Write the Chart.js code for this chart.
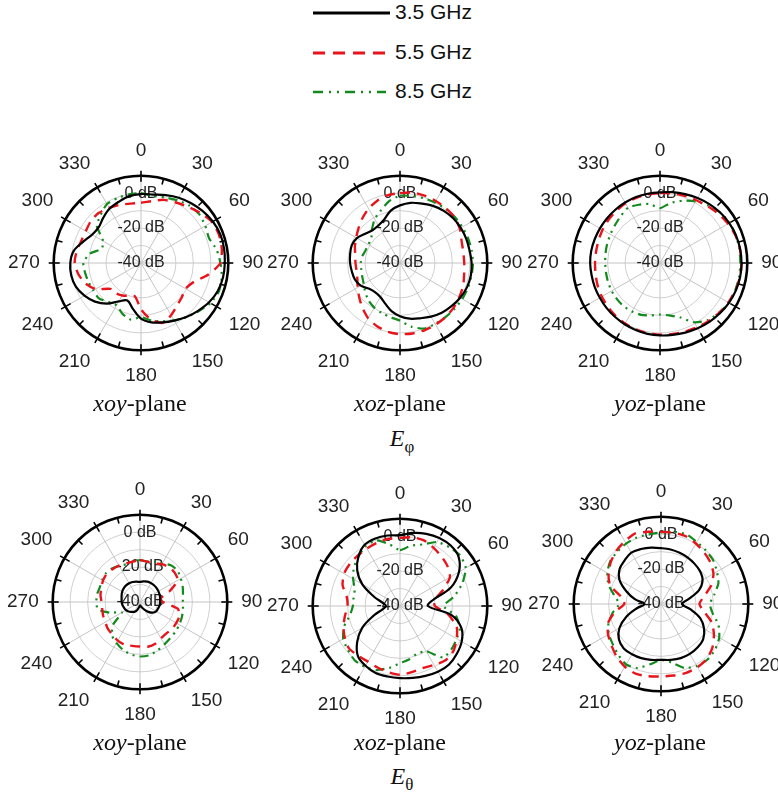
<!DOCTYPE html>
<html>
<head>
<meta charset="utf-8">
<script src="https://cdn.jsdelivr.net/npm/chart.js@4.4.1/dist/chart.umd.min.js"></script>
<style>
  body { margin: 0; background: #fff; }
  #page { position: relative; width: 778px; height: 794px; overflow: hidden; }
  .box { position: absolute; }
  .cap { position: absolute; font-family: "Liberation Serif", "Times New Roman", serif; font-size: 24px; color: #111; transform: translate(-50%, -50%); white-space: nowrap; }
  .cap i { font-style: italic; }
  .leg { position: absolute; left: 312px; top: 0; width: 200px; font-family: "Liberation Sans", Arial, sans-serif; font-size: 21px; color: #111; white-space: nowrap; }
  .leg div { position: relative; height: 39.5px; }
  .leg svg { position: absolute; left: 0; top: 3px; }
  .leg span { position: absolute; left: 83px; top: 0px; }
</style>
</head>
<body>
<div id="page">
  <div class="leg">
    <div><svg width="80" height="20"><line x1="1" y1="10" x2="78" y2="10" stroke="#000" stroke-width="3"/></svg><span>3.5 GHz</span></div>
    <div><svg width="80" height="20"><line x1="1" y1="10" x2="74" y2="10" stroke="#e8141c" stroke-width="3" stroke-dasharray="12 8"/></svg><span>5.5 GHz</span></div>
    <div><svg width="80" height="20"><line x1="1" y1="10" x2="74" y2="10" stroke="#138a1e" stroke-width="2.5" stroke-dasharray="10 6 2 6 2 6"/></svg><span>8.5 GHz</span></div>
  </div>

  <div class="box" id="b1"><canvas id="c1" width="266" height="266"></canvas></div>
  <div class="box" id="b2"><canvas id="c2" width="266" height="266"></canvas></div>
  <div class="box" id="b3"><canvas id="c3" width="266" height="266"></canvas></div>
  <div class="box" id="b4"><canvas id="c4" width="266" height="266"></canvas></div>
  <div class="box" id="b5"><canvas id="c5" width="266" height="266"></canvas></div>
  <div class="box" id="b6"><canvas id="c6" width="266" height="266"></canvas></div>

  <div class="cap" style="left:140px; top:403px"><i>xoy</i>-plane</div>
  <div class="cap" style="left:400px; top:403px"><i>xoz</i>-plane</div>
  <div class="cap" style="left:660px; top:403px"><i>yoz</i>-plane</div>
  <div class="cap" style="left:402px; top:441px"><i>E</i><sub style="font-size:17px">φ</sub></div>
  <div class="cap" style="left:140px; top:742px"><i>xoy</i>-plane</div>
  <div class="cap" style="left:400px; top:742px"><i>xoz</i>-plane</div>
  <div class="cap" style="left:660px; top:742px"><i>yoz</i>-plane</div>
  <div class="cap" style="left:402px; top:779px"><i>E</i><sub style="font-size:17px">θ</sub></div>
</div>

<script>
// angles (deg) every 10
const angles = [0, 10, 20, 30, 40, 50, 60, 70, 80, 90, 100, 110, 120, 130, 140, 150, 160, 170,
                180, 190, 200, 210, 220, 230, 240, 250, 260, 270, 280, 290, 300, 310, 320, 330, 340, 350];
const angleTicks = ['0', '30', '60', '90', '120', '150', '180', '210', '240', '270', '300', '330'];
const dbTicks = [-40, -20, 0];
const seriesNames = ['3.5 GHz', '5.5 GHz', '8.5 GHz'];

// E-phi, xoy-plane
const phiXoy35 = [-0.5, -0.2, 1.4, 3.2, 4.7, 6.2, 7.5, 8.3, 8.3, 8.0, 7.7, 6.8, 5.0, 2.6, 0.4, -1.9, -3.8, -5.5,
                  -8.2, -13.3, -17.2, -14.6, -9.6, -5.6, -2.6, -0.3, 0.6, 0.5, -0.8, -4.6, -7.6, -8.3, -6.3, -4.0, -2.7, -1.1];
const phiXoy55 = [-5.5, -4, -1.5, 0, 2, 4.5, 7, 7.5, 7, 5.5, -1, -8, -10.5, -9.5, -8, -5.5, -3.5, -7,
                  -13.5, -20.5, -20, -18.5, -17.5, -17, -10, -6, -3.5, -2, -2.5, -3.5, -3.5, -2.5, -2.5, -3.5, -4.5, -5.5];
const phiXoy85 = [0, -1, 0, 1.5, 3, 3.5, 2.5, 1.5, 4, 5.5, 7, 7.5, 6, 3, 0.5, -2, -4.5, -6.5,
                  -9, -7, -9, -12, -11, -8.5, -8.5, -8, -7.5, -7, -10, -16, -15, -7, -4, -1, -0.5, 0];

// E-phi, xoz-plane
const phiXoz35 = [-7, -5, -3.8, -2.2, -1, -0.2, 0.2, 0.4, 0.5, 1, 1.2, 0.8, -0.2, -1.5, -2.8, -4.5, -6.3, -7.6,
                  -9.5, -12, -15.2, -17.5, -18, -17, -14, -12.5, -12, -11.4, -11, -10.6, -11.5, -14, -15.5, -15.2, -13.5, -9.5];
const phiXoz55 = [0, 1, 1, 1, 1, 0.8, -0.5, -2.5, -3.2, -3.2, -2.7, -1.5, -0.8, 0, 0.5, 0.8, 1, 1,
                  0.8, 0, -1.5, -3.5, -6.5, -9.5, -12, -14, -14.7, -14.5, -14, -12.5, -11, -9, -6.5, -4, -2, -0.5];
const phiXoz85 = [-1.5, -1, -0.5, 0, 0.5, 1, 1.2, 1.5, 1.7, 1.8, 1.6, 1.5, 1.2, 0.8, 0.5, 0.3, 0, -3,
                  -7, -8.5, -9.5, -10.5, -12, -14, -16, -17, -17.5, -17.5, -18, -19, -19, -18.5, -15, -11, -8, -4];

// E-phi, yoz-plane
const phiYoz35 = [0.5, 1.2, 2, 3, 4, 5, 5.8, 6.3, 6.6, 6.7, 6.6, 6.2, 5.6, 4.8, 4, 3.2, 2.4, 1.8,
                  1.5, 1.2, 0.8, 0.5, 0.2, 0, -0.2, -0.2, -0.2, 0, 0, -0.2, -0.3, -0.3, -0.2, 0, 0.2, 0.3];
const phiYoz55 = [0, 0.5, 1, 1.5, 2.5, 3.8, 5, 6, 6.5, 6.7, 6.5, 6, 5.2, 4.3, 3.3, 2.5, 1.8, 1.3,
                  1, 0.8, 0.5, 0, -0.5, -1, -1.5, -2, -2.5, -2.8, -2.8, -2.5, -2, -1.5, -1, -0.5, -0.3, -0.1];
const phiYoz85 = [-8.6, -5.1, -2, 0.8, 3, 5, 6, 6.2, 6.2, 6, 6, 5.8, 5.5, 4.2, 2.7, -0.8, -6.9, -9.5,
                  -10.5, -9.5, -8.4, -8, -7.6, -7.8, -8, -8.3, -8.6, -8.6, -8.3, -7.8, -7.2, -6.3, -5, -3.4, -4.5, -5.7];

// E-theta, xoy-plane
const thXoy35 = [-28.5, -28, -27.6, -27.5, -27.5, -27.6, -27.8, -28, -28.3, -28.5, -28.6, -29, -29.3, -30.5, -32.6, -35, -36.5, -37.5,
                 -38, -37, -35, -33.5, -32.6, -31.5, -30.8, -30.3, -29.8, -29.5, -29.3, -28.8, -28.2, -27.8, -27.6, -27.6, -27.8, -28.2];
const thXoy55 = [-16, -16.5, -16.5, -15, -14, -14, -15, -22, -28, -27, -18, -16, -16, -16, -16.5, -16, -14.5, -14,
                 -14.5, -14.5, -14, -14.5, -15.5, -16, -17, -17.5, -18, -18, -17, -16.5, -15.5, -15, -15.5, -16, -16.5, -16.5];
const thXoy85 = [-16, -16.5, -15.5, -14.5, -12.5, -12, -13, -14, -15, -15.5, -15, -14.5, -14, -13.5, -13, -12, -10.5, -9,
                 -8.8, -9.5, -11, -13, -15, -20, -28, -22, -15.5, -15, -15, -15.5, -15, -14.5, -15, -16, -17, -16.5];

// E-theta, xoz-plane
const thXoz35 = [0.6, 2.5, 4, 5, 5.2, 3.8, -1, -9, -21, -24, -10, -2.5, 0.8, 2.5, 3.7, 3.5, 2.6, 1.8,
                 1.3, 1, 0.8, -0.5, -2.5, -8, -15, -24, -30, -32, -30, -24, -15, -8, -3, 0.5, 1.2, 1];
const thXoz55 = [-1, 0, 0, -1.5, -3, -4.5, -7, -14, -20, -20, -12, -5.5, -2.5, 0, 0.6, -1, -2.2, -1.5,
                 -0.6, -1.5, -2.5, -3.2, -2.8, -2, -3.5, -5.5, -8, -10, -9, -5, -3, -2.5, -2.3, -2, -1.5, -1];
const thXoz85 = [-8, -5, -2.5, 2.3, 4, 5, 3.5, -2, -8.5, -15, -7.5, -3.5, -2.5, -1.5, -1.5, -10, -11, -9,
                 -7.2, -4, -1, 0.3, 0.5, -1, -2.4, -6, -11, -13, -13, -12.4, -9, -5.5, -3, -0.5, 0, -4];

// E-theta, yoz-plane
const thYoz35 = [-8, -8.3, -8.8, -9.3, -10, -10.8, -12.5, -16.8, -24, -28, -23, -16, -11.5, -8.5, -7.5, -7, -7, -7.5,
                 -8, -7.5, -7, -6.8, -6.8, -8.5, -12.5, -19, -26, -30.5, -25, -19, -12.6, -9, -7.5, -6, -6.5, -7.2];
const thYoz55 = [1.3, 1.5, 1.3, 0, -1.5, -3, -5.3, -9.5, -15, -18, -15, -9, -5, -1.5, 1, 1.8, 2, 1.6,
                 1.5, 2, 2.5, 1.5, -0.5, -3, -5, -7.6, -13, -19, -17, -9, -5.3, -2.5, -0.2, 1.5, 3, 2];
const thYoz85 = [1, 2, 2.5, 1, 0, -1, -3, -5, -9, -12, -10, -5, -1.5, 0.5, 1.5, 1, -1, -6,
                 -8, -5, -1, 0, -2, -4, -5.5, -8, -12, -16, -13, -8, -4.5, -2, -1, 0, 0.5, 0.5];

const sans = '"Liberation Sans", Arial, sans-serif';

// tick marks on the outer ring (every 15 deg, long ones every 30)
const ringTicks = {
    id: 'ringTicks',
    afterDatasetsDraw(chart) {
        const r = chart.scales.r;
        const ctx = chart.ctx;
        const R = r.getDistanceFromCenterForValue(r.max);
        ctx.save();
        ctx.strokeStyle = '#000';
        ctx.lineWidth = 1.6;
        for (let a = 0; a < 360; a += 15) {
            const major = a % 30 === 0;
            const p1 = r.getPointPosition(a / 10, major ? R + 5 : R);
            const p2 = r.getPointPosition(a / 10, R - 6);
            ctx.beginPath();
            ctx.moveTo(p1.x, p1.y);
            ctx.lineTo(p2.x, p2.y);
            ctx.stroke();
        }
        ctx.restore();
    }
};

function polar(n, cx, cy, s35, s55, s85) {
    const ctx = document.getElementById('c' + n).getContext('2d');
    const chart = new Chart(ctx, {
        type: 'radar',
        data: {
            labels: angles.map(String),
            datasets: [
                { label: seriesNames[0], data: s35, borderColor: '#000', borderWidth: 2.2, tension: 0.35 },
                { label: seriesNames[1], data: s55, borderColor: '#e8141c', borderWidth: 2.4, borderDash: [10, 7], tension: 0.2 },
                { label: seriesNames[2], data: s85, borderColor: '#138a1e', borderWidth: 2.2, borderDash: [9, 5, 2, 5, 2, 5], tension: 0.2 },
            ],
        },
        options: {
            responsive: false,
            animation: false,
            elements: { point: { radius: 0 }, line: { fill: false } },
            plugins: { legend: { display: false }, tooltip: { enabled: false } },
            scales: {
                r: {
                    min: -40,
                    max: 10,
                    ticks: {
                        stepSize: 10,
                        showLabelBackdrop: false,
                        color: '#222',
                        font: { family: sans, size: 16 },
                        callback: v => dbTicks.includes(v) ? v + ' dB' : '',
                    },
                    grid: {
                        circular: true,
                        color: c => c.tick.value === 10 ? '#000' : '#cfcfcf',
                        lineWidth: c => c.tick.value === 10 ? 2.6 : 1,
                    },
                    angleLines: {
                        color: '#c4c4c4',
                        lineWidth: c => c.index % 3 === 0 ? 1 : 0,
                    },
                    pointLabels: {
                        color: '#222',
                        padding: 4,
                        font: { family: sans, size: 19 },
                        callback: l => angleTicks.includes(l) ? l : '',
                    },
                },
            },
        },
        plugins: [ringTicks],
    });
    const sc = chart.scales.r;
    const box = document.getElementById('b' + n);
    box.style.left = (cx - sc.xCenter) + 'px';
    box.style.top = (cy - sc.yCenter) + 'px';
    return chart;
}

polar(1, 140.5, 262.5, phiXoy35, phiXoy55, phiXoy85);
polar(2, 400, 262.7, phiXoz35, phiXoz55, phiXoz85);
polar(3, 660, 263, phiYoz35, phiYoz55, phiYoz85);
polar(4, 140, 601.5, thXoy35, thXoy55, thXoy85);
polar(5, 400, 605.5, thXoz35, thXoz55, thXoz85);
polar(6, 661, 604, thYoz35, thYoz55, thYoz85);
</script>
</body>
</html>
